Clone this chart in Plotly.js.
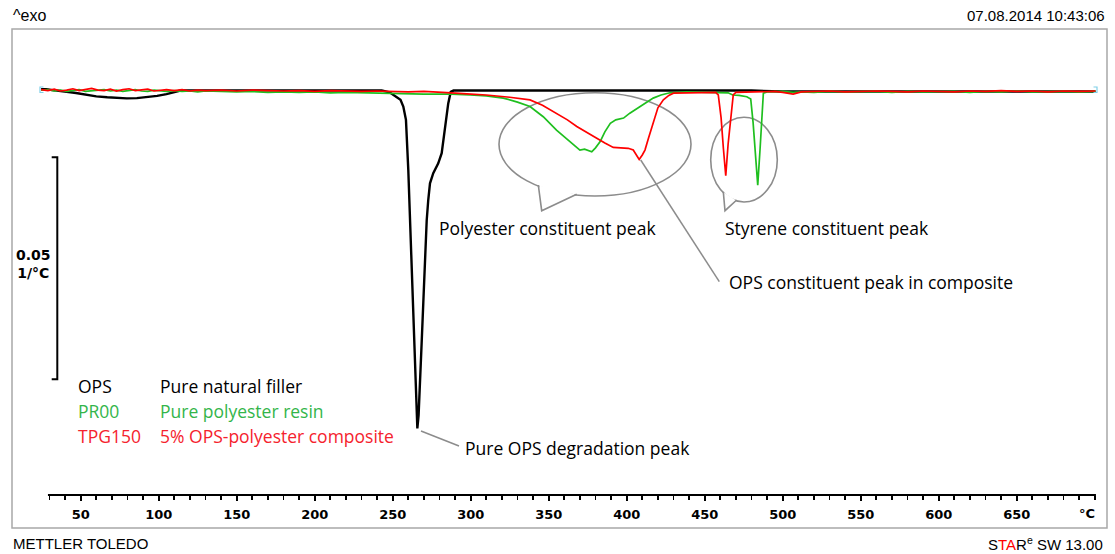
<!DOCTYPE html>
<html>
<head>
<meta charset="utf-8">
<script src="https://cdn.plot.ly/plotly-3.0.1.min.js"></script>
<style>html,body{margin:0;padding:0;background:#fff;}#chart{width:1115px;height:554px;}</style>
</head>
<body>
<div id="chart"></div>
<script>
// ---------------- DATA (temperature in °C, DTG value in 1/°C) ----------------
const T_OPS = [24.6, 28, 32, 36, 41, 47, 54, 60, 67, 73, 79.5, 86, 92, 99, 105, 110, 114, 120, 140, 160,
  180, 200, 220, 235, 243, 248, 252.6, 255, 256.8, 258.5, 260, 261, 262.2, 263.3, 264.3, 265.2, 265.8, 266.6, 267.5, 268.5,
  269.6, 270.7, 271.8, 272.8, 273.9, 276, 279.2, 281.4, 283.5, 285.6, 287.2, 289, 300, 350, 400, 450, 480, 500, 550, 600,
  650, 700.5];
const V_OPS = [0.0004, 0.0004, 0.0002, 0.0001, -0.00016, -0.00045, -0.0009, -0.0012, -0.0014, -0.0016,
  -0.00165, -0.0016, -0.0014, -0.0011, -0.0007, -0.0002, 0.0001, 0.00015, 0.00015, 0.0001,
  0.00015, 0.0001, 0.00015, 0.0001, 0.0001, -0.0003, -0.0013, -0.002, -0.0035, -0.0065,
  -0.0178, -0.0279, -0.0403, -0.0516, -0.0628, -0.0718, -0.076, -0.073, -0.0666, -0.0572,
  -0.0478, -0.0381, -0.0291, -0.0245, -0.0208, -0.0185, -0.0163, -0.014, -0.0088, -0.0028,
  -0.0002, 0.0001, 0.0001, 0.0001, 0.0001, 0.0001, 0.0001, -0.0001, -0.0001, -0.0001,
  -0.0001, -0.0001];

const T_PR00 = [24.6, 29, 33, 37, 41, 45, 49, 53, 57, 61, 65, 69, 73, 77, 81, 85, 89, 93, 97, 101,
  105, 110, 115, 120, 125, 130, 140, 150, 160, 170, 180, 190, 200, 210, 220, 230, 240, 250, 260, 270, 280,
  287.6, 299.6, 310, 320.9, 330, 338, 346.5, 355, 363.6, 370, 373, 377.6, 380, 383, 386, 389.5, 393, 398, 402,
  406.6, 412, 417, 422, 427.7, 438.5,
  455, 465, 468, 472, 477, 479.5, 481, 482.5, 484, 485.5, 486.5, 487.6,
  490, 495, 500, 506.7, 512, 520, 530, 540, 550, 560, 570, 580, 590, 600, 610, 620, 630, 640, 650, 660, 670, 680, 690, 700.5];
const V_PR00 = [0.0002, 0.0003, 0.0, 0.0002, -0.0001, 0.0001, 0.0003, -0.0001, 0.0, 0.0002,
  0.0003, 0.0, 0.0002, -0.0001, 0.0001, 0.0003, 0.0, -0.0001, 0.0002, 0.0,
  -0.0001, 0.0001, -0.0001, 0.0, -0.0002, 0.0, -0.0001, -0.0002, -0.0001, -0.0003,
  -0.0002, -0.0003, -0.0002, -0.0004, -0.0003, -0.0004, -0.0005, -0.0005, -0.0006, -0.0007, -0.0007,
  -0.0007, -0.0009, -0.0011, -0.0016, -0.0025, -0.0035, -0.0058, -0.0088, -0.0114, -0.0133,
  -0.0131, -0.0137, -0.0128, -0.0114, -0.0092, -0.0073, -0.0065, -0.0061, -0.005, -0.0039,
  -0.0027, -0.0016, -0.0009, -0.0004, -0.0002,
  -0.0003, -0.0004, -0.0009, -0.001, -0.0013, -0.0018, -0.007, -0.014, -0.0212, -0.013, -0.006, -0.0005,
  -0.0002, -0.0002, -0.0001, -0.0003, -0.0002, -0.0003, -0.0001, -0.0002, -0.0002, -0.0001, -0.0003, -0.0001,
  -0.0002, -0.0002, -0.0001, -0.0003, -0.0001, -0.0002, 0.0, -0.0002, -0.0001, -0.0001, -0.0002, -0.0001];

const T_TPG150 = [24.6, 29, 33, 37, 41, 45, 49, 53, 57, 61, 65, 69, 73, 77, 81, 85, 89, 93, 97, 101,
  105, 110, 115, 120, 125, 130, 140, 150, 160, 170, 180, 190, 200, 210, 220, 230, 240, 250, 260, 270, 280,
  287.6, 300, 310, 325, 338, 346, 355, 362, 368, 375, 380.8, 386, 391.4, 396, 401, 404.2, 406, 408, 410,
  411.7, 414, 417, 420, 423.5, 427, 430, 440, 450, 457,
  458.7, 460.5, 462, 463.5, 465, 466.8, 468.3, 470,
  490, 495, 500, 506.7, 512, 520, 530, 540, 550, 560, 570, 580, 590, 600, 610, 620, 630, 640, 650, 660, 670, 680, 690, 700.5];
const V_TPG150 = [0.0003, 0.0001, 0.0004, 0.0, 0.0002, 0.0005, 0.0001, 0.0003, 0.0006, 0.0002,
  0.0001, 0.0004, 0.0, 0.0003, 0.0005, 0.0001, 0.0002, 0.0004, 0.0, 0.0002,
  0.0003, 0.0001, 0.0003, 0.0, 0.0002, 0.0001, 0.0002, 0.0, 0.0002, 0.0001,
  0.0, 0.0001, -0.0001, 0.0001, 0.0, -0.0001, 0.0, -0.0001, -0.0002, -0.0001, -0.0002,
  -0.0004, -0.0007, -0.0009, -0.0014, -0.002, -0.0032, -0.005, -0.0065, -0.008, -0.0095,
  -0.0107, -0.0117, -0.0127, -0.0128, -0.0129, -0.0133, -0.0144, -0.0154, -0.0144,
  -0.0133, -0.0106, -0.0073, -0.0038, -0.002, -0.001, -0.0005, -0.0004, -0.0003, -0.0003,
  -0.0009, -0.006, -0.013, -0.0191, -0.012, -0.005, -0.0009, -0.0003,
  -0.0002, -0.0001, -0.0003, -0.0007, -0.0002, -0.0001, 0.0, -0.0002, -0.0001, 0.0, -0.0001, -0.0002,
  0.0, -0.0001, -0.0002, 0.0, -0.0001, 0.0001, -0.0001, 0.0, -0.0002, 0.0, -0.0001, 0.0];

const TICK_VALUES = [50, 100, 150, 200, 250, 300, 350, 400, 450, 500, 550, 600, 650];
const TICK_LABELS = ['50', '100', '150', '200', '250', '300', '350', '400', '450', '500', '550', '600', '650'];
const SERIES_NAMES = ['OPS', 'PR00', 'TPG150'];
const SERIES_DESCR = ['Pure natural filler', 'Pure polyester resin', '5% OPS-polyester composite'];
const SCALE_BAR_VALUE = 0.05;   // 1/°C
const SCALE_BAR_TOP = -0.01493;

// ---------------- LAYOUT HELPERS ----------------
const W = 1115, H = 554, ML = 40, MR = 19, MT = 29, MB = 59;
const PW = W - ML - MR, PH = H - MT - MB;
const px = x => (x - ML) / PW;
const py = y => (H - MB - y) / PH;

const C_BLACK = '#000000', C_GREEN = '#1fbf1f', C_RED = '#ff0000';
const C_GREEN_T = '#33b54a', C_RED_T = '#f5222d';
const GRAY = '#8c8c8c';
const CAL = 'Open Sans, Noto Sans, sans-serif';
const ARIAL = 'Liberation Sans, Arial, sans-serif';
const TAHB = 'DejaVu Sans, Verdana, sans-serif';
const FS = 17.5;

const traces = [
  {x: T_OPS, y: V_OPS, name: SERIES_NAMES[0], mode: 'lines', line: {color: C_BLACK, width: 2.4}},
  {x: T_PR00, y: V_PR00, name: SERIES_NAMES[1], mode: 'lines', line: {color: C_GREEN, width: 1.7}},
  {x: T_TPG150, y: V_TPG150, name: SERIES_NAMES[2], mode: 'lines', line: {color: C_RED, width: 1.7}}
];

function txt(text, x, y, opts) {
  return Object.assign({
    text: text, xref: 'paper', yref: 'paper', x: px(x), y: py(y),
    xanchor: 'left', yanchor: 'middle', showarrow: false,
    font: {family: CAL, size: FS, color: '#000'}
  }, opts || {});
}
function pathPx(pts, close) {
  return 'M' + pts.map(p => px(p[0]).toFixed(5) + ',' + py(p[1]).toFixed(5)).join(' L') + (close ? ' Z' : '');
}

const annotations = [
  txt('^exo', 11, 15, {font: {family: ARIAL, size: 16, color: '#000'}}),
  txt('07.08.2014 10:43:06', 1107, 15, {xanchor: 'right', font: {family: ARIAL, size: 15, color: '#000'}}),
  txt('METTLER TOLEDO', 11, 543, {font: {family: ARIAL, size: 15, color: '#000'}}),
  txt('S<span style="color:#ff0000">TA</span>R<sup>e</sup> SW 13.00', 1105, 543, {xanchor: 'right', font: {family: ARIAL, size: 15, color: '#000'}}),
  txt('<b>0.05</b><br><b>1/°C</b>', 33, 264, {xanchor: 'center', align: 'center', font: {family: TAHB, size: 14, color: '#000'}}),
  txt('<b>°C</b>', 1087, 513, {xanchor: 'center', font: {family: TAHB, size: 13, color: '#000'}}),
  txt(SERIES_NAMES[0], 76, 386, {font: {family: CAL, size: FS, color: '#000'}}),
  txt(SERIES_DESCR[0], 158, 386, {font: {family: CAL, size: FS, color: '#000'}}),
  txt(SERIES_NAMES[1], 76, 411, {font: {family: CAL, size: FS, color: C_GREEN_T}}),
  txt(SERIES_DESCR[1], 158, 411, {font: {family: CAL, size: FS, color: C_GREEN_T}}),
  txt(SERIES_NAMES[2], 76, 436, {font: {family: CAL, size: FS, color: C_RED_T}}),
  txt(SERIES_DESCR[2], 158, 436, {font: {family: CAL, size: FS, color: C_RED_T}}),
  txt('Polyester constituent peak', 437, 228),
  txt('Styrene constituent peak', 723, 228),
  txt('OPS constituent peak in composite', 727, 282),
  txt('Pure OPS degradation peak', 463, 448)
];

const shapes = [
  // outer frame
  {type: 'rect', xref: 'paper', yref: 'paper', x0: px(12), x1: px(1107), y0: py(29), y1: py(528),
   line: {color: '#a8a8a8', width: 1.5}, layer: 'below'},
  // speech bubble 1
  {type: 'circle', xref: 'paper', yref: 'paper', x0: px(499), x1: px(691), y0: py(92.7), y1: py(196),
   line: {color: GRAY, width: 1.6}, layer: 'below'},
  {type: 'path', xref: 'paper', yref: 'paper', path: pathPx([[539.3, 185.6], [542.4, 209.7], [575.3, 194.2]], true),
   fillcolor: '#fff', line: {width: 0}, layer: 'below'},
  {type: 'path', xref: 'paper', yref: 'paper', path: pathPx([[538.3, 185], [541.7, 210.7], [576.7, 194.3]]),
   line: {color: GRAY, width: 1.6}, layer: 'below'},
  // speech bubble 2
  {type: 'circle', xref: 'paper', yref: 'paper', x0: px(710.7), x1: px(777.3), y0: py(117.3), y1: py(202),
   line: {color: GRAY, width: 1.6}, layer: 'below'},
  {type: 'path', xref: 'paper', yref: 'paper', path: pathPx([[723.9, 192.6], [725.5, 209.7], [735.9, 200.3]], true),
   fillcolor: '#fff', line: {width: 0}, layer: 'below'},
  {type: 'path', xref: 'paper', yref: 'paper', path: pathPx([[723.3, 191.7], [725, 210.7], [736.7, 200]]),
   line: {color: GRAY, width: 1.6}, layer: 'below'},
  // pointer lines
  {type: 'line', xref: 'paper', yref: 'paper', x0: px(640.7), y0: py(160), x1: px(719.3), y1: py(281.7),
   line: {color: GRAY, width: 1.5}},
  {type: 'line', xref: 'paper', yref: 'paper', x0: px(421), y0: py(431), x1: px(459), y1: py(446),
   line: {color: GRAY, width: 1.5}},
  // scale bar (0.05 1/°C)
  {type: 'path', xref: 'paper', yref: 'y',
   path: 'M' + px(51.7) + ',' + SCALE_BAR_TOP + ' L' + px(57.3) + ',' + SCALE_BAR_TOP +
         ' L' + px(57.3) + ',' + (SCALE_BAR_TOP - SCALE_BAR_VALUE) + ' L' + px(51.7) + ',' + (SCALE_BAR_TOP - SCALE_BAR_VALUE),
   line: {color: '#000', width: 2}},
  // start / end markers of the curves
  {type: 'path', xref: 'paper', yref: 'paper', path: pathPx([[43.5, 87], [40, 87], [40, 92.5], [43.5, 92.5]]),
   line: {color: '#7fd0e8', width: 1.2}},
  {type: 'path', xref: 'paper', yref: 'paper', path: pathPx([[1093.5, 87], [1097, 87], [1097, 92.5], [1093.5, 92.5]]),
   line: {color: '#7fd0e8', width: 1.2}},
  // temperature axis line
  {type: 'line', xref: 'x', yref: 'paper', x0: 29, x1: 700.8, y0: 0, y1: 0, line: {color: '#000', width: 2.2}}
];

const layout = {
  width: W, height: H,
  margin: {l: ML, r: MR, t: MT, b: MB, pad: 0},
  paper_bgcolor: '#fff', plot_bgcolor: '#fff',
  showlegend: false,
  xaxis: {
    range: [23.91, 700.83], showgrid: false, zeroline: false, showline: false,
    tickmode: 'array', tickvals: TICK_VALUES, ticktext: TICK_LABELS,
    ticks: 'outside', ticklen: 5, tickwidth: 2, tickcolor: '#000', ticklabelstandoff: 2,
    tickfont: {family: TAHB, size: 13, color: '#000', weight: 'bold'},
    minor: {dtick: 10, tick0: 0, ticks: 'outside', ticklen: 3.5, tickwidth: 1.8, tickcolor: '#000', showgrid: false}
  },
  yaxis: {range: [-0.090991, 0.013964], visible: false, showgrid: false, zeroline: false},
  annotations: annotations,
  shapes: shapes
};

Plotly.newPlot('chart', traces, layout, {displayModeBar: false, staticPlot: true});
</script>
</body>
</html>
